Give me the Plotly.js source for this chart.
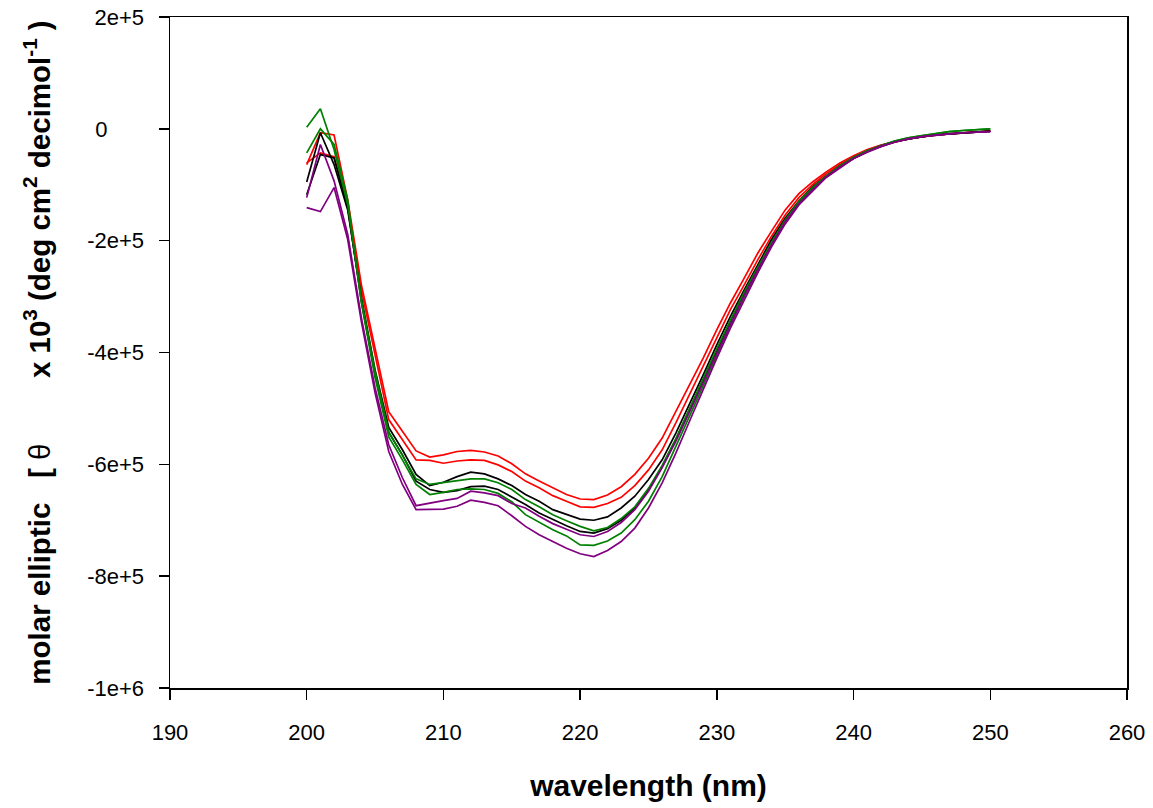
<!DOCTYPE html>
<html>
<head>
<meta charset="utf-8">
<script src="https://cdn.plot.ly/plotly-3.0.1.min.js"></script>
<style>
  html, body { margin: 0; padding: 0; background: #ffffff; }
  #chart { width: 1153px; height: 808px; }
</style>
</head>
<body>
<div id="chart"></div>
<script>
// Wavelength (nm)
var wavelength = [200,201,202,203,204,205,206,207,208,209,210,211,212,213,214,215,216,217,218,219,220,
  221,222,223,224,225,226,227,228,229,230,231,232,233,234,235,236,237,238,239,240,
  241,242,243,244,245,246,247,248,249,250];

// Molar ellipticity, in units of 10^3 deg cm^2 decimol^-1
var red1 = [-64,-7,-11,-127,-279,-395,-506,-541,-576,-587,-583,-577,-575,-578,-585,-599,-617,-630,-642,-654,-662,
  -663,-655,-640,-618,-589,-553,-505,-458,-410,-359,-311,-267,-222,-183,-145,-116,-95,-77,-61,-48,
  -37,-29,-23,-18,-14,-11,-9,-7,-5,-4];
var red2 = [-61,-43,-50,-136,-288,-404,-520,-556,-592,-593,-598,-594,-592,-593,-601,-613,-630,-642,-656,-666,-676,
  -677,-670,-659,-638,-610,-574,-526,-475,-425,-374,-323,-279,-234,-192,-154,-123,-100,-80,-64,-50,
  -39,-30,-23,-18,-14,-11,-9,-7,-5,-4];
var black1 = [-95,-7,-64,-145,-302,-431,-534,-574,-618,-638,-632,-622,-614,-617,-626,-638,-654,-666,-681,-690,-698,
  -700,-694,-678,-657,-627,-592,-544,-493,-440,-386,-335,-288,-243,-198,-160,-129,-104,-84,-66,-52,
  -40,-31,-23,-18,-14,-11,-9,-7,-5,-4];
var black2 = [-118,-46,-52,-141,-309,-440,-543,-583,-630,-645,-650,-647,-640,-639,-645,-658,-672,-687,-699,-710,-720,
  -723,-715,-700,-678,-645,-604,-556,-502,-449,-395,-344,-294,-249,-204,-164,-132,-107,-86,-68,-53,
  -41,-31,-23,-18,-14,-11,-9,-7,-5,-4];
var green1 = [3,36,-37,-136,-306,-434,-542,-583,-626,-636,-633,-629,-626,-626,-633,-645,-663,-676,-690,-701,-711,
  -719,-713,-697,-676,-643,-602,-554,-500,-447,-393,-342,-292,-247,-203,-163,-130,-105,-84,-66,-51,
  -39,-30,-22,-16,-12,-8,-5,-3,-2,0];
var green2 = [-43,0,-28,-127,-311,-445,-551,-592,-636,-654,-650,-645,-644,-645,-652,-667,-690,-704,-717,-728,-744,
  -745,-737,-723,-699,-666,-622,-568,-514,-461,-404,-352,-301,-254,-209,-167,-134,-109,-86,-68,-52,
  -40,-30,-22,-16,-12,-8,-5,-3,-2,0];
var purple1 = [-123,-28,-93,-189,-338,-463,-565,-624,-674,-669,-665,-661,-648,-651,-656,-670,-678,-693,-706,-716,-726,
  -729,-720,-704,-681,-648,-606,-559,-508,-454,-401,-348,-298,-252,-207,-166,-134,-109,-86,-68,-53,
  -41,-31,-24,-18,-14,-11,-9,-7,-6,-5];
var purple2 = [-141,-148,-105,-198,-345,-472,-577,-636,-681,-681,-680,-675,-664,-668,-674,-692,-711,-726,-738,-750,-760,
  -765,-754,-738,-714,-678,-633,-580,-523,-466,-410,-356,-306,-257,-211,-170,-136,-111,-87,-70,-53,
  -42,-32,-24,-18,-14,-11,-9,-7,-6,-5];

// Axis ticks
var xTickVals = [190,200,210,220,230,240,250,260];
var yTickVals = [-1000000,-800000,-600000,-400000,-200000,0,200000];
var NB = '\u00a0';
var yTickText = ['-1e+6','-8e+5','-6e+5','-4e+5','-2e+5','0'+NB+NB+NB+NB+NB+NB,'2e+5'];

var series = [
  {name:'red 1', y: red1, color:'#ff0000'},
  {name:'red 2', y: red2, color:'#ff0000'},
  {name:'black 1', y: black1, color:'#000000'},
  {name:'black 2', y: black2, color:'#000000'},
  {name:'green 1', y: green1, color:'#008000'},
  {name:'green 2', y: green2, color:'#008000'},
  {name:'purple 1', y: purple1, color:'#800080'},
  {name:'purple 2', y: purple2, color:'#800080'}
];

var traces = series.map(function(s){
  return {
    type:'scatter', mode:'lines', name:s.name,
    x: wavelength,
    y: s.y.map(function(v){ return v*1000; }),
    line:{color:s.color, width:1.7},
    hoverinfo:'x+y'
  };
});

var FONT = 'Liberation Sans, Arial, Helvetica, sans-serif';
var yTitle = '<b>molar elliptic</b>'+NB+NB+NB+'<b>[</b>'+NB+'θ'+NB+NB+NB+NB+NB+NB+NB+NB+
  '<b>x 10<sup>3</sup> (deg cm<sup>2</sup> decimol<sup>-1</sup> )</b>';

var layout = {
  width:1153, height:808,
  margin:{l:170, r:26, t:17, b:120, pad:0},
  paper_bgcolor:'#ffffff', plot_bgcolor:'#ffffff',
  showlegend:false,
  font:{family:FONT, color:'#000000'},
  xaxis:{
    range:[190,260], tickmode:'array', tickvals:xTickVals,
    ticks:'outside', ticklen:10, tickwidth:1.5, tickcolor:'#000',
    showline:true, linecolor:'#000', linewidth:1.5, mirror:true,
    showgrid:false, zeroline:false,
    tickfont:{family:FONT, size:22, color:'#000'},
    ticklabelstandoff:14,
    title:{text:'wavelength (nm)', font:{family:FONT, size:30, color:'#000', weight:'bold'}, standoff:31},
    automargin:false
  },
  yaxis:{
    range:[-1000000,200000], tickmode:'array', tickvals:yTickVals, ticktext:yTickText,
    ticks:'outside', ticklen:10, tickwidth:1.5, tickcolor:'#000',
    showline:true, linecolor:'#000', linewidth:1.5, mirror:true,
    showgrid:false, zeroline:false,
    tickfont:{family:FONT, size:22, color:'#000'},
    ticklabelstandoff:10,
    title:{text:yTitle, font:{family:FONT, size:29.5, color:'#000'}, standoff:28},
    automargin:false
  }
};

Plotly.newPlot('chart', traces, layout, {displayModeBar:false, staticPlot:true});
</script>
</body>
</html>
